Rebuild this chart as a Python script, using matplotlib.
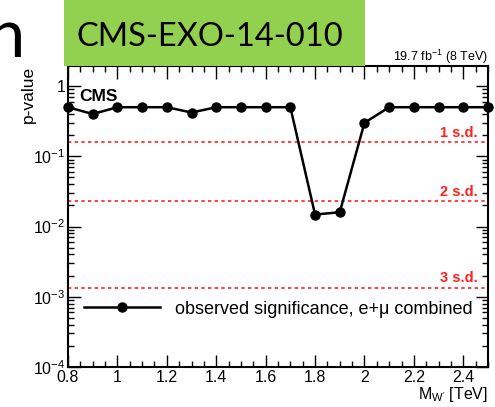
import matplotlib
matplotlib.use("Agg")
import matplotlib.pyplot as plt
import numpy as np
from matplotlib.ticker import LogLocator, MultipleLocator
from matplotlib.patches import Rectangle

plt.rcParams['font.family'] = ['Liberation Sans', 'DejaVu Sans']
plt.rcParams['mathtext.fontset'] = 'custom'
plt.rcParams['mathtext.rm'] = 'Liberation Sans'
plt.rcParams['mathtext.it'] = 'Liberation Sans:italic'
plt.rcParams['mathtext.bf'] = 'Liberation Sans:bold'

# Data
mass = [0.8, 0.9, 1.0, 1.1, 1.2, 1.3, 1.4, 1.5, 1.6, 1.7, 1.8, 1.9, 2.0, 2.1, 2.2, 2.3, 2.4, 2.5]
pvalue = [0.5, 0.40, 0.5, 0.5, 0.5, 0.42, 0.5, 0.5, 0.5, 0.5, 0.0148, 0.016, 0.30, 0.5, 0.5, 0.5, 0.5, 0.5]
sd_labels = ["1 s.d.", "2 s.d.", "3 s.d."]
sd_values = [0.1587, 0.02275, 0.00135]
xticks = [0.8, 1.0, 1.2, 1.4, 1.6, 1.8, 2.0, 2.2, 2.4]
xticklabels = ["0.8", "1", "1.2", "1.4", "1.6", "1.8", "2", "2.2", "2.4"]
yticks = [1e-4, 1e-3, 1e-2, 1e-1, 1]
yticklabels = [r'$10^{-4}$', r'$10^{-3}$', r'$10^{-2}$', r'$10^{-1}$', '1']

W, H = 495, 407
fig = plt.figure(figsize=(W / 100, H / 100), dpi=100)
ax = fig.add_axes([68 / W, 1 - 367 / H, (488 - 68) / W, (367 - 66) / H])

ax.set_yscale('log')
ax.set_xlim(0.8, 2.5)
ax.set_ylim(1e-4, 10 ** (20 / 70))

for v, lab in zip(sd_values, sd_labels):
    ax.axhline(v, color='#ff2020', lw=1.2, ls=(0, (2, 2)), zorder=1)
    ax.text(2.46, v * 1.08, lab, color='#ff2020', fontsize=10.5, fontweight='bold',
            ha='right', va='bottom')

ax.plot(mass, pvalue, color='black', lw=1.8, marker='o', ms=6.5, clip_on=False, zorder=3,
        label='observed significance, e+\u03bc combined')

ax.set_xticks(xticks)
ax.set_xticklabels(xticklabels)
ax.xaxis.set_minor_locator(MultipleLocator(0.05))
ax.yaxis.set_minor_locator(LogLocator(base=10, subs=np.arange(2, 10), numticks=10))
ax.set_yticks(yticks)
ax.set_yticklabels(yticklabels)
ax.yaxis.set_minor_formatter(plt.NullFormatter())

ax.tick_params(which='both', direction='in', top=True, right=True, labelsize=11.5, width=1)
ax.tick_params(which='major', length=9)
ax.tick_params(which='minor', length=4.5)
ax.tick_params(axis='x', pad=2)
ax.tick_params(axis='y', pad=2)
for s in ax.spines.values():
    s.set_linewidth(1.5)

leg = ax.legend(loc='lower left', bbox_to_anchor=(0.0, 0.11), frameon=False, fontsize=13,
                handlelength=4.2, handletextpad=0.8, borderaxespad=0.5)

ax.text(0.026, 0.925, 'CMS', transform=ax.transAxes, fontsize=12.5, fontweight='bold',
        ha='left', va='top')
ax.set_xlabel(r"M$_{\mathregular{W}^{\prime}}$ [TeV]", fontsize=11.5, ha='right', x=1.0, labelpad=0)
ax.set_ylabel('p-value', fontsize=12.5, ha='right', y=1.0)
ax.yaxis.set_label_coords((36 - 68) / 420, 1.0)

fig.text(488 / W, 1 - 61 / H, r'19.7 fb$^{-1}$ (8 TeV)', fontsize=9, ha='right', va='baseline')

# Green label box
fig.patches.append(Rectangle((64 / W, 1 - 66 / H), (365 - 64) / W, 66 / H,
                             transform=fig.transFigure, facecolor='#92d050',
                             edgecolor='none', zorder=5))
fig.text(210 / W, 1 - 37 / H, 'CMS-EXO-14-010', fontsize=23.5, family=['Lato', 'DejaVu Sans'],
         ha='center', va='center', zorder=6)
fig.text(24 / W, 1 - 57 / H, 'n', fontsize=48, family=['Lato', 'DejaVu Sans'],
         ha='right', va='baseline')

fig.savefig('out.png', dpi=100)
